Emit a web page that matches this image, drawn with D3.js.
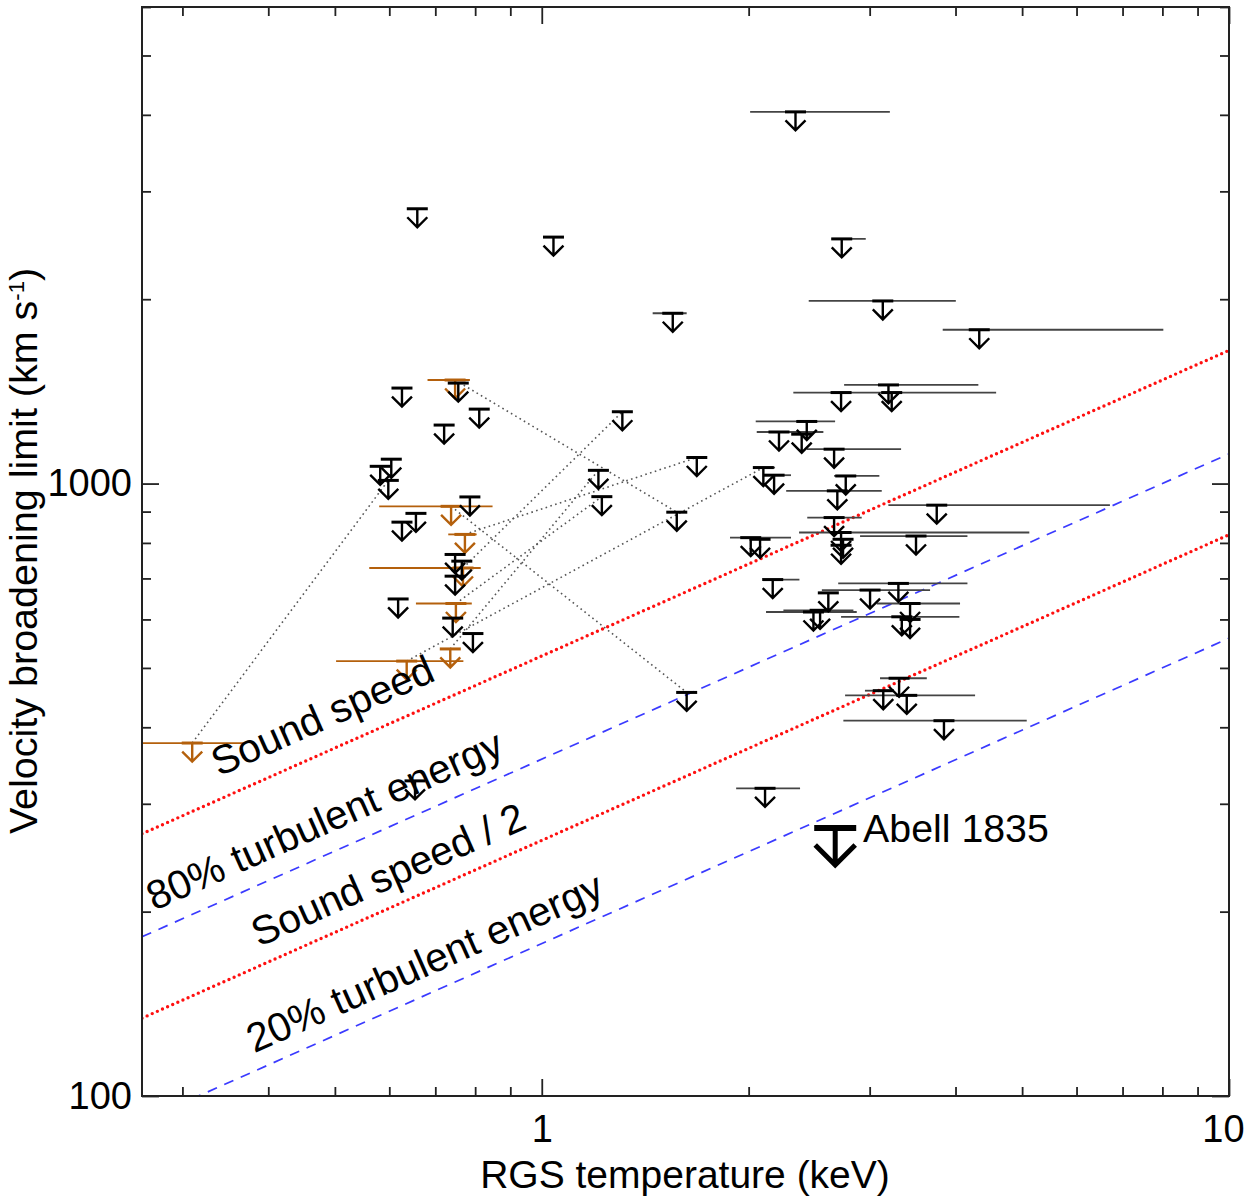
<!DOCTYPE html>
<html>
<head>
<meta charset="utf-8">
<script src="https://cdn.jsdelivr.net/npm/d3@7"></script>
<style>
  body { margin: 0; background: #fff; }
  svg { display: block; }
  text { font-family: "Liberation Sans", Arial, Helvetica, sans-serif; }
</style>
</head>
<body>
<svg id="chart" width="1248" height="1200"></svg>
<script>
// Axis ranges: RGS temperature (keV) and velocity broadening limit (km/s)
const tempDomain = [0.262, 10];
const velDomain = [100, 6000];
const xMajorTicks = [1, 10];
const xMinorTicks = [0.3, 0.4, 0.5, 0.6, 0.7, 0.8, 0.9, 2, 3, 4, 5, 6, 7, 8, 9];
const yMajorTicks = [100, 1000];
const yMinorTicks = [200, 300, 400, 500, 600, 700, 800, 900, 2000, 3000, 4000, 5000, 6000];

// Sample upper limits (black)
const sampleT = [2.34, 0.659, 1.04, 1.551, 0.626, 0.756, 0.811, 0.721, 1.31, 0.604,
  0.582, 0.598, 0.786, 0.656, 0.626, 0.748, 0.765, 0.748, 0.618, 0.742,
  0.794, 1.572, 1.625, 1.209, 1.223, 1.681, 2.101, 3.195, 2.726, 3.23,
  2.43, 2.214, 2.389, 2.663, 2.178, 2.769, 2.692, 3.756, 2.663, 2.726,
  3.504, 2.744, 2.726, 2.014, 2.078, 2.168, 3.303, 3.004, 2.612, 3.435,
  2.485, 2.541, 3.341, 3.435, 3.311, 3.14, 3.397, 3.848, 2.113, 0.654,
  2.732, 3.135, 4.331];
const sampleV = [4045, 2810, 2526, 1897, 1432, 1459, 1323, 1246, 1310, 1096,
  1067, 1012, 951, 894, 865, 766, 747, 706, 648, 603,
  569, 898, 456, 1051, 952, 1103, 1062, 1449, 1408, 1408,
  1263, 1214, 1204, 1138, 1032, 1029, 973, 922, 880, 832,
  821, 811, 793, 816, 811, 697, 687, 670, 663, 637,
  617, 621, 606, 600, 481, 459, 451, 410, 318, 327,
  2509, 1987, 1783];
const sampleTlo = [2.01, null, null, 1.45, null, null, null, null, null, null,
  null, null, null, null, null, null, null, null, null, null,
  null, null, null, null, null, null, 2.037, 2.754, 2.323, null,
  2.048, 2.055, null, 2.43, 2.101, 2.663, 2.268, 3.194, 2.434, 2.368,
  2.905, null, null, 1.879, null, 2.098, 2.70, 2.556, null, 3.072,
  2.12, 2.247, 2.726, null, 3.106, 2.953, 2.763, 2.747, 1.918, null,
  2.642, 2.446, 3.832];
const sampleThi = [3.21, null, null, 1.625, null, null, null, null, null, null,
  null, null, null, null, null, null, null, null, null, null,
  null, null, null, null, null, null, 2.185, 4.318, 4.583, null,
  2.672, 2.569, null, 3.333, 2.305, 3.099, 3.124, 6.71, 2.921, 5.122,
  4.163, null, null, 2.305, null, 2.371, 4.163, 3.673, null, 4.061,
  2.873, 2.841, 4.052, null, 3.633, 3.23, 4.271, 5.078, 2.376, null,
  2.961, 4.004, 8.025];

// Cool-component upper limits (brown) and the sample point each one pairs with
const coolT = [0.748, 0.738, 0.773, 0.768, 0.750, 0.736, 0.636, 0.310];
const coolV = [1476, 918, 826, 728, 637, 537, 513, 377];
const coolTlo = [0.682, 0.58, 0.731, 0.561, 0.656, null, 0.502, 0.25];
const coolThi = [0.786, 0.848, 0.804, 0.815, 0.791, null, 0.769, 0.368];
const coolPair = [21, 22, 25, 8, 24, 23, 26, 11];

// Abell 1835
const abellT = 2.673;
const abellV = 274;

// Reference relations, given at the two ends of the temperature range
const refT = [0.262, 10];
const soundV = [268, 1650];
const halfSoundV = [134, 825];
const turb80V = [182, 1118];
const turb20V = [91, 559];

const plot = { left: 142, right: 1229, top: 7, bottom: 1096 };

const svg = d3.select("#chart");
const x = d3.scaleLog().domain(tempDomain).range([plot.left, plot.right]);
const y = d3.scaleLog().domain(velDomain).range([plot.bottom, plot.top]);

const ink = "#222";
const brown = "#b4600c";
const fs = 38;

svg.append("defs").append("clipPath").attr("id", "plotclip")
  .append("rect")
  .attr("x", plot.left).attr("y", plot.top)
  .attr("width", plot.right - plot.left).attr("height", plot.bottom - plot.top);

const g = svg.append("g").attr("clip-path", "url(#plotclip)");

// Reference lines
const refLine = d3.line().x(d => x(d[0])).y(d => y(d[1]));
function drawRef(vals, style) {
  g.append("path")
    .datum(refT.map((t, i) => [t, vals[i]]))
    .attr("d", refLine)
    .attr("fill", "none")
    .attr("stroke", style.color)
    .attr("stroke-width", style.width)
    .attr("stroke-dasharray", style.dash)
    .attr("stroke-linecap", style.cap);
}
const redDot = { color: "#ff1010", width: 3.4, dash: "0,5.6", cap: "round" };
const blueDash = { color: "#3a3aff", width: 1.7, dash: "10,8", cap: "butt" };
drawRef(soundV, redDot);
drawRef(halfSoundV, redDot);
drawRef(turb80V, blueDash);
drawRef(turb20V, blueDash);

// Dotted connectors between paired measurements
g.append("g").selectAll("line")
  .data(coolT.map((t, i) => i))
  .join("line")
  .attr("x1", i => x(coolT[i])).attr("y1", i => y(coolV[i]))
  .attr("x2", i => x(sampleT[coolPair[i]])).attr("y2", i => y(sampleV[coolPair[i]]))
  .attr("stroke", "#555").attr("stroke-width", 1.6)
  .attr("stroke-dasharray", "1.6,3.4");

// Temperature error bars
function drawBars(T, V, lo, hi, color) {
  const idx = T.map((t, i) => i).filter(i => lo[i] != null);
  g.append("g").selectAll("line")
    .data(idx)
    .join("line")
    .attr("x1", i => x(lo[i])).attr("x2", i => x(hi[i]))
    .attr("y1", i => y(V[i])).attr("y2", i => y(V[i]))
    .attr("stroke", color).attr("stroke-width", 1.8);
}
drawBars(sampleT, sampleV, sampleTlo, sampleThi, "#444");
drawBars(coolT, coolV, coolTlo, coolThi, brown);

// Upper-limit arrows
function arrowPath(px, py, s) {
  const half = 10 * s, len = 18.5 * s, head = 10 * s;
  return `M${px},${py}V${py + len}` +
    `M${px - half},${py + len - head}L${px},${py + len}L${px + half},${py + len - head}`;
}
function drawArrows(T, V, color, s, capW, stemW) {
  const grp = g.append("g");
  const idx = T.map((t, i) => i);
  grp.selectAll("path.stem")
    .data(idx).join("path").attr("class", "stem")
    .attr("d", i => arrowPath(x(T[i]), y(V[i]), s))
    .attr("fill", "none").attr("stroke", color)
    .attr("stroke-width", stemW).attr("stroke-linejoin", "miter");
  grp.selectAll("line.cap")
    .data(idx).join("line").attr("class", "cap")
    .attr("x1", i => x(T[i]) - 10.5 * s).attr("x2", i => x(T[i]) + 10.5 * s)
    .attr("y1", i => y(V[i])).attr("y2", i => y(V[i]))
    .attr("stroke", color).attr("stroke-width", capW);
}
drawArrows(coolT, coolV, brown, 1, 3, 2.4);
drawArrows(sampleT, sampleV, "#000", 1, 3, 2.4);
drawArrows([abellT], [abellV], "#000", 2, 6, 5);

// Annotations along the reference lines
const ang = Math.atan2(y(soundV[1]) - y(soundV[0]), x(refT[1]) - x(refT[0])) * 180 / Math.PI;
const notes = [
  { text: "Sound speed", t: 0.3392, v: 332 },
  { text: "80% turbulent energy", t: 0.2729, v: 200.5 },
  { text: "Sound speed / 2", t: 0.3879, v: 175 },
  { text: "20% turbulent energy", t: 0.3816, v: 117.4 }
];
svg.append("g").selectAll("text")
  .data(notes).join("text")
  .attr("transform", d => `translate(${x(d.t)},${y(d.v)}) rotate(${ang})`)
  .attr("font-size", 40.5).attr("fill", "#000")
  .text(d => d.text);

svg.append("text")
  .attr("x", x(2.935)).attr("y", y(260))
  .attr("font-size", 39.3).attr("fill", "#000")
  .text("Abell 1835");

// Axes: inward ticks on all four sides
function styleAxis(sel) {
  sel.select(".domain").remove();
  sel.selectAll(".tick line").attr("stroke", ink).attr("stroke-width", 1.8);
  sel.selectAll(".tick text").attr("font-size", fs).attr("fill", "#000")
    .attr("font-family", "\"Liberation Sans\", Arial, sans-serif");
}
const bottomG = svg.append("g").attr("transform", `translate(0,${plot.bottom})`);
bottomG.append("g").call(d3.axisBottom(x).tickValues(xMinorTicks).tickSize(-9).tickFormat("")).call(styleAxis);
bottomG.append("g").call(d3.axisBottom(x).tickValues(xMajorTicks).tickSize(-17).tickPadding(19)
  .tickFormat(d3.format("d"))).call(styleAxis)
  .selectAll(".tick text").attr("dx", d => d === 10 ? -6 : 0);

const topG = svg.append("g").attr("transform", `translate(0,${plot.top})`);
topG.append("g").call(d3.axisTop(x).tickValues(xMinorTicks).tickSize(-9).tickFormat("")).call(styleAxis);
topG.append("g").call(d3.axisTop(x).tickValues(xMajorTicks).tickSize(-17).tickFormat("")).call(styleAxis);

const leftG = svg.append("g").attr("transform", `translate(${plot.left},0)`);
leftG.append("g").call(d3.axisLeft(y).tickValues(yMinorTicks).tickSize(-9).tickFormat("")).call(styleAxis);
leftG.append("g").call(d3.axisLeft(y).tickValues(yMajorTicks).tickSize(-17).tickPadding(10)
  .tickFormat(d3.format("d"))).call(styleAxis);

const rightG = svg.append("g").attr("transform", `translate(${plot.right},0)`);
rightG.append("g").call(d3.axisRight(y).tickValues(yMinorTicks).tickSize(-9).tickFormat("")).call(styleAxis);
rightG.append("g").call(d3.axisRight(y).tickValues(yMajorTicks).tickSize(-17).tickFormat("")).call(styleAxis);

// Frame
svg.append("rect")
  .attr("x", plot.left).attr("y", plot.top)
  .attr("width", plot.right - plot.left).attr("height", plot.bottom - plot.top)
  .attr("fill", "none").attr("stroke", ink).attr("stroke-width", 2);

// Axis titles
svg.append("text")
  .attr("x", 685).attr("y", 1188)
  .attr("text-anchor", "middle").attr("font-size", 39).attr("fill", "#000")
  .text("RGS temperature (keV)");

const yt = svg.append("text")
  .attr("transform", `translate(37,551) rotate(-90)`)
  .attr("text-anchor", "middle").attr("font-size", 39.5).attr("fill", "#000");
yt.append("tspan").text("Velocity broadening limit (km s");
yt.append("tspan").attr("font-size", 22).attr("dy", -13).text("-1");
yt.append("tspan").attr("dy", 13).text(")");
</script>
</body>
</html>
